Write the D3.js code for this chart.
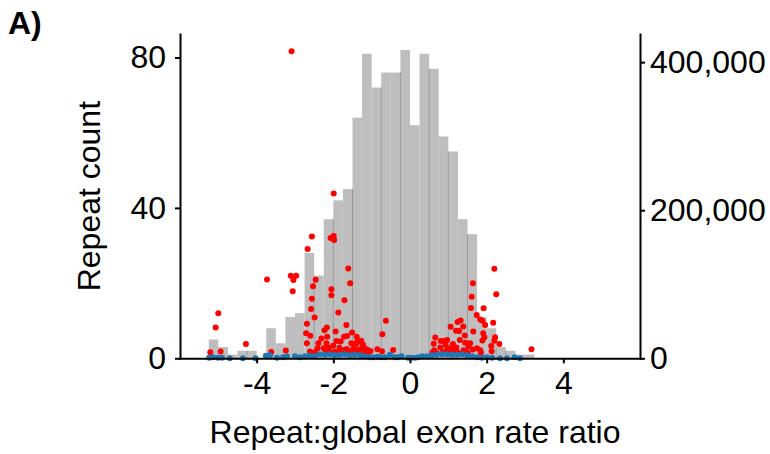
<!DOCTYPE html>
<html>
<head>
<meta charset="utf-8">
<script src="https://cdn.jsdelivr.net/npm/d3@7"></script>
<style>
  body { margin: 0; background: #fff; }
  svg text { font-family: "Liberation Sans", Arial, sans-serif; fill: #000; }
  .axis path, .axis line { stroke: #000; stroke-width: 2px; }
  .axis text { font-size: 32px; }
</style>
</head>
<body>
<div id="chart"></div>
<script>
// histogram of repeats, bins of 0.25 starting at -5.25
const binStart = -5.25;
const binWidth = 0.25;
const repeatCounts = [5, 3, 1, 2, 2, 0, 8, 4, 11, 12, 28, 22, 37, 42, 45, 64, 81, 72, 76, 76,
                      82, 62, 81, 77, 59, 55, 37, 33, 11, 8, 3, 2, 1, 1];
// bin edges where neighbouring bars overlap and show a darker seam
const seamEdges = [-4.25, -2.5, -2, -1.5, -0.75, -0.25, 0.5, 1, 1.5, 2.25, 2.5];

const countTicks = [0, 40, 80];
const rightTicks = [0, 200000, 400000];
const xTicks = [-4, -2, 0, 2, 4];

// [ratio, value] for significant repeats
const redPoints = [
  [-5.21, 8200], [-5.07, 41600], [-5.00, 60900], [-4.94, 9200], [-4.28, 19300],
  [-3.73, 106400], [-3.62, 8500], [-3.24, 10500], [-3.09, 414600], [-3.11, 111500],
  [-2.97, 111500], [-3.04, 105700], [-3.06, 90500], [-2.56, 164500], [-2.67, 147600],
  [-1.99, 222600], [-2.07, 162500], [-1.99, 165200], [-1.98, 159800], [-2.46, 106200],
  [-2.53, 97200], [-2.56, 80500], [-2.58, 66600], [-2.49, 55100], [-2.69, 46700],
  [-2.71, 33800], [-2.60, 30500], [-2.69, 20300], [-2.61, 9200], [-2.48, 8500],
  [-2.41, 13500], [-1.61, 121300], [-1.56, 101300], [-2.05, 93200], [-2.05, 85100],
  [-1.71, 78500], [-1.87, 61900], [-1.66, 45000], [-1.51, 34800], [-1.72, 29200],
  [-2.17, 41600], [-2.23, 37800], [-2.16, 29200], [-2.31, 26700], [-1.94, 36200],
  [-2.39, 20300], [-2.18, 20300], [-1.92, 23400], [-1.81, 22700], [-1.53, 20300],
  [-1.38, 22400], [-2.25, 13500], [-2.11, 14300], [-2.00, 17000], [-1.84, 14300],
  [-1.71, 11200], [-1.59, 9900], [-1.47, 13500], [-1.35, 11200], [-2.19, 8900],
  [-2.09, 8100], [-1.96, 8900], [-1.83, 8100], [-1.70, 8100], [-1.61, 8100],
  [-1.39, 29200], [-1.64, 30100], [-1.30, 22400], [-1.26, 13500], [-1.44, 8100],
  [-1.22, 8900], [-1.65, 12600], [-2.22, 12200], [-0.63, 50800], [-0.72, 32400],
  [-1.41, 18900], [-1.27, 23800], [-1.22, 18000], [-1.13, 12200], [-1.03, 9900],
  [-0.85, 12200], [-0.73, 9500], [-1.17, 6800], [-1.09, 8100], [-0.44, 11200],
  [-1.52, 8900], [2.20, 121000], [1.64, 101300], [1.61, 83200], [2.25, 86600],
  [1.59, 67900], [1.92, 67500], [1.74, 58500], [1.83, 52400], [1.89, 50800],
  [2.17, 48100], [1.96, 45000], [1.06, 42700], [1.24, 49000], [1.32, 51100],
  [1.39, 42900], [1.20, 37300], [1.28, 36900], [1.43, 30800], [1.30, 24700],
  [1.65, 36200], [1.91, 33800], [1.94, 28400], [1.89, 24000], [2.22, 28400],
  [2.20, 23800], [2.33, 19300], [2.12, 16600], [0.66, 28100], [0.80, 23400],
  [0.88, 23400], [0.97, 24700], [0.62, 19700], [0.93, 18000], [1.12, 19300],
  [1.44, 21100], [1.57, 20300], [1.53, 16200], [1.75, 13500], [0.79, 14600],
  [1.05, 13500], [1.21, 14600], [1.40, 10900], [0.63, 10800], [0.96, 10800],
  [1.13, 11900], [1.64, 11900], [1.83, 10800], [0.58, 7600], [0.86, 8500],
  [1.21, 8900], [1.45, 10100], [1.00, 7600], [1.51, 7600], [0.70, 6800],
  [1.30, 6800], [2.13, 9500], [1.85, 7600], [3.17, 12200]
];

// [ratio, value] for the other repeats
const bluePoints = [
  [-5.24, 700], [-5.14, 1400], [-5.01, 700], [-4.90, 700], [-4.70, 0], [-4.36, 0], [-4.03, 0],
  [-3.76, 3400], [-3.65, 4000], [-3.47, 700], [-3.31, 1400], [-3.21, 2700], [-3.00, 2700],
  [-2.87, 1400], [-2.74, 2700], [-2.61, 3400], [-2.48, 2700], [-2.35, 5400], [-2.22, 4700],
  [-2.09, 5400], [-1.96, 4000], [-1.83, 4700], [-1.70, 5400], [-1.57, 4000], [-1.44, 4700],
  [-1.30, 4000], [-1.17, 2700], [-1.04, 1400], [-0.96, 1400], [-0.84, 2000], [-0.75, 1400],
  [-0.65, 1400], [-0.52, 4700], [-0.39, 1400], [-0.31, 1400], [-0.22, 2700], [-0.05, 700],
  [0.03, 700], [0.13, 700], [0.21, 1400], [0.31, 2700], [0.44, 2700], [0.57, 4000], [0.70, 4700],
  [0.84, 5400], [0.97, 5400], [1.10, 4700], [1.23, 4700], [1.36, 5400], [1.49, 4000],
  [1.62, 2700], [1.75, 1400], [1.88, 700], [2.00, 1400], [2.14, 700], [2.35, 0], [2.53, 0],
  [2.73, 1400], [2.87, 0]
];

const width = 770, height = 454;
const plot = { left: 180, right: 640, top: 34, bottom: 358.3 };

const x = d3.scaleLinear().domain([-6, 6]).range([plot.left, plot.right]);
const yCount = d3.scaleLinear().domain([0, 86.25]).range([plot.bottom, plot.top]);
const yRight = d3.scaleLinear().domain([0, 438000]).range([plot.bottom, plot.top]);

const bins = repeatCounts.map((c, i) => ({ x0: binStart + i * binWidth, x1: binStart + (i + 1) * binWidth, count: c }));

const svg = d3.select("#chart").append("svg")
  .attr("width", width)
  .attr("height", height);

// bars
svg.append("g")
  .selectAll("rect")
  .data(bins.filter(d => d.count > 0))
  .join("rect")
  .attr("x", d => x(d.x0))
  .attr("width", d => x(d.x1) - x(d.x0))
  .attr("y", d => yCount(d.count))
  .attr("height", d => yCount(0) - yCount(d.count))
  .attr("fill", "#bebebe");

// seams between overlapping bars
svg.append("g")
  .selectAll("line")
  .data(seamEdges)
  .join("line")
  .attr("x1", d => x(d))
  .attr("x2", d => x(d))
  .attr("y1", yCount(0))
  .attr("y2", d => {
    const i = Math.round((d - binStart) / binWidth);
    return yCount(Math.min(repeatCounts[i - 1], repeatCounts[i]));
  })
  .attr("stroke", "#999")
  .attr("stroke-width", 1);

// points
svg.append("g")
  .selectAll("circle")
  .data(redPoints)
  .join("circle")
  .attr("cx", d => x(d[0]))
  .attr("cy", d => yRight(d[1]))
  .attr("r", 3)
  .attr("fill", "#ff0000");

svg.append("g")
  .selectAll("circle")
  .data(bluePoints)
  .join("circle")
  .attr("cx", d => x(d[0]))
  .attr("cy", d => yRight(d[1]))
  .attr("r", 3)
  .attr("fill", "#1f77b4");

// axes
svg.append("g")
  .attr("class", "axis axis--x")
  .attr("transform", "translate(0," + plot.bottom + ")")
  .call(d3.axisBottom(x).tickValues(xTicks).tickFormat(d => String(d))
    .tickSize(5).tickSizeOuter(0).tickPadding(8));

svg.append("g")
  .attr("class", "axis axis--y")
  .attr("transform", "translate(" + plot.left + ",0)")
  .call(d3.axisLeft(yCount).tickValues(countTicks).tickSize(5).tickSizeOuter(0).tickPadding(9));

svg.append("g")
  .attr("class", "axis axis--y2")
  .attr("transform", "translate(" + plot.right + ",0)")
  .call(d3.axisRight(yRight).tickValues(rightTicks).tickFormat(d3.format(","))
    .tickSize(5).tickSizeOuter(0).tickPadding(5));

svg.selectAll(".domain").attr("stroke-linecap", "square");

// labels
svg.append("text")
  .attr("x", 8)
  .attr("y", 34)
  .style("font-size", "32px")
  .style("font-weight", "bold")
  .text("A)");

svg.append("text")
  .attr("transform", "translate(100," + ((plot.top + plot.bottom) / 2) + ") rotate(-90)")
  .attr("text-anchor", "middle")
  .style("font-size", "32px")
  .text("Repeat count");

svg.append("text")
  .attr("x", 415)
  .attr("y", 443)
  .attr("text-anchor", "middle")
  .style("font-size", "32px")
  .text("Repeat:global exon rate ratio");
</script>
</body>
</html>
